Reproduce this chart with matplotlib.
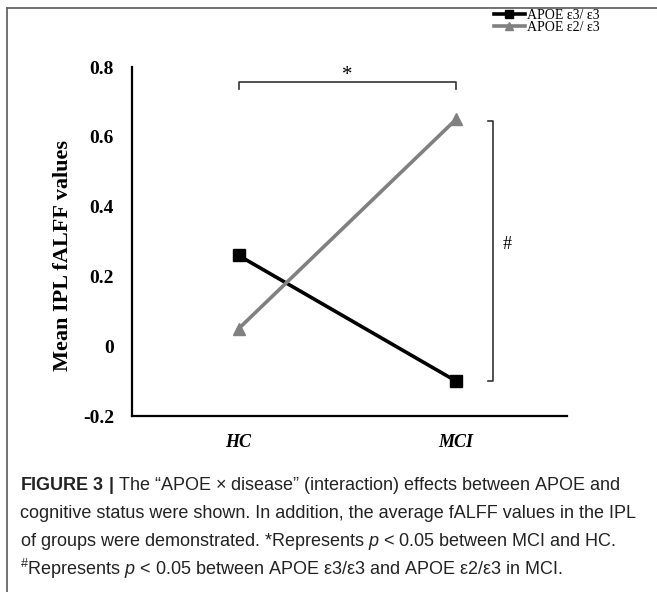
import matplotlib
matplotlib.use("Agg")
from matplotlib import pyplot as plt
from matplotlib.lines import Line2D

# data
groups = ["HC", "MCI"]
apoe_e33 = [0.26, -0.10]
apoe_e23 = [0.05, 0.65]
yticks = [-0.2, 0, 0.2, 0.4, 0.6, 0.8]
yticklabels = ["-0.2", "0", "0.2", "0.4", "0.6", "0.8"]

plt.rcParams["mathtext.fontset"] = "custom"
plt.rcParams["mathtext.rm"] = "Liberation Sans"
plt.rcParams["mathtext.it"] = "Liberation Sans:italic"
plt.rcParams["mathtext.bf"] = "Liberation Sans:bold"

W, H = 657, 592
fig = plt.figure(figsize=(W / 100, H / 100), dpi=100)
ax = fig.add_axes([132 / W, 1 - 416 / H, 435 / W, 349 / H])

x = list(range(len(groups)))
ax.plot(x, apoe_e33, color="black", linewidth=2.6, marker="s", markersize=9, label="APOE ε3/ ε3")
ax.plot(x, apoe_e23, color="#808080", linewidth=2.6, marker="^", markersize=9, label="APOE ε2/ ε3")

ax.set_xlim(-0.49, 1.51)
ax.set_ylim(-0.2, 0.8)
ax.set_yticks(yticks)
ax.set_yticklabels(yticklabels, fontfamily="Liberation Serif", fontweight="bold", fontsize=14)
ax.set_xticks(x)
ax.set_xticklabels(groups, fontfamily="Liberation Serif", fontweight="bold", fontstyle="italic", fontsize=13)
ax.tick_params(axis="both", length=0)
ax.tick_params(axis="y", pad=13)
ax.tick_params(axis="x", pad=13)
for s in ["top", "right"]:
    ax.spines[s].set_visible(False)
for s in ["left", "bottom"]:
    ax.spines[s].set_linewidth(1.6)
ax.set_ylabel("Mean IPL fALFF values", fontfamily="Liberation Serif", fontweight="bold", fontsize=16)
ax.yaxis.set_label_coords(-0.135, 0.46)

# significance brackets
ax.plot([0, 0, 1, 1], [0.738, 0.757, 0.757, 0.738], color="#333333", linewidth=1.2, clip_on=False)
ax.text(0.5, 0.777, "*", ha="center", va="center", fontsize=15, fontfamily="Liberation Serif")
ax.plot([1.145, 1.17, 1.17, 1.145], [0.645, 0.645, -0.1, -0.1], color="#333333", linewidth=1.2, clip_on=False)
ax.text(1.235, 0.29, "#", ha="center", va="center", fontsize=13, fontfamily="Liberation Serif")

fig.legend(loc="upper left", bbox_to_anchor=(494 / W, 1 - 9 / H), frameon=False,
           prop={"family": "Liberation Serif", "size": 10}, handlelength=2.2,
           handletextpad=0.15, labelspacing=-0.1, borderpad=0, borderaxespad=0, markerscale=0.6)

# outer frame (top and left edge of the figure panel)
fig.add_artist(Line2D([7 / W, 1], [1 - 8 / H, 1 - 8 / H], transform=fig.transFigure, color="#666666", linewidth=1.3))
fig.add_artist(Line2D([7 / W, 7 / W], [1 - 8 / H, 0], transform=fig.transFigure, color="#666666", linewidth=1.3))

caption = [
    r"$\mathbf{FIGURE\ 3\ |}$ The “APOE × disease” (interaction) effects between APOE and",
    "cognitive status were shown. In addition, the average fALFF values in the IPL",
    r"of groups were demonstrated. *Represents $p$ < 0.05 between MCI and HC.",
    r"$^{\#}$Represents $p$ < 0.05 between APOE ε3/ε3 and APOE ε2/ε3 in MCI.",
]
ys = [486, 514, 542, 569]
for line, yy in zip(caption, ys):
    fig.text(20 / W, 1 - yy / H, line, ha="left", va="center", fontsize=13, fontfamily="Liberation Sans", color="#222222")

plt.savefig("out.png", dpi=100)
